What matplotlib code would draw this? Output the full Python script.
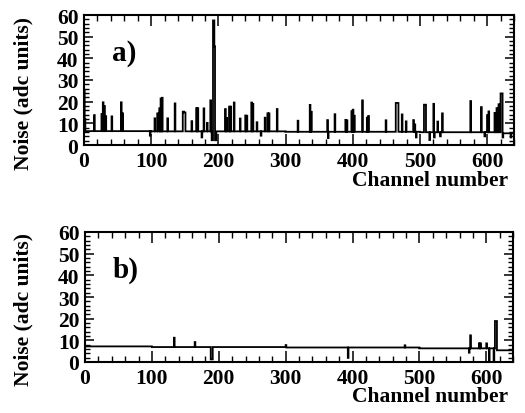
import numpy as np
import matplotlib
matplotlib.use("Agg")
import matplotlib.pyplot as plt
from matplotlib.ticker import MultipleLocator

plt.rcParams['font.family'] = ['Liberation Serif', 'DejaVu Serif']
plt.rcParams['font.weight'] = 'bold'

n_channels = 640

# ---- panel a) : baseline levels (start channel, level) and spikes (channel, value)
base_a_start = [0, 100, 300, 500, 624]
base_a_level = [6.4, 6.3, 6.1, 5.9, 5.4]
spike_a_ch = [0, 1, 15, 26, 28, 30, 32, 41, 55, 57, 98,
              105, 109, 112, 114, 116, 124, 135, 147, 148, 149, 150,
              160, 167, 169, 175, 178, 183, 188, 190, 191, 192, 193, 194, 195, 196,
              210, 212, 216, 218, 223, 232, 240, 242, 249, 251, 257, 263,
              269, 273, 275, 287, 318, 336, 338, 362, 363, 373, 389, 391,
              398, 400, 402, 414, 421, 423, 449, 464, 465, 466, 467, 473,
              479, 490, 492, 494, 506, 507, 508, 514, 520, 521, 526, 530, 533,
              575, 591, 596, 600, 602, 611, 614, 617, 620, 621, 622, 623, 635]
spike_a_val = [25.0, 12.0, 13.8, 14.3, 19.7, 18.0, 13.3, 13.2, 19.7, 14.6, 4.3,
               12.3, 14.6, 16.9, 21.5, 21.8, 12.3, 19.2, 15.4, 15.4, 15.0, 15.0,
               11.0, 17.0, 17.0, 3.5, 16.9, 10.2, 20.6, 2.2, 2.2, 57.5, 57.5, 45.5, 2.2, 2.2,
               16.6, 12.5, 17.7, 17.7, 19.6, 12.2, 13.6, 13.5, 19.6, 19.0, 10.5, 4.3,
               12.6, 14.6, 14.6, 16.6, 11.2, 18.5, 15.3, 11.5, 3.2, 14.2, 11.6, 11.4,
               15.6, 16.3, 13.5, 20.6, 12.6, 13.4, 11.4, 19.4, 19.4, 19.4, 19.4, 14.1,
               10.9, 11.5, 9.5, 3.5, 18.6, 18.6, 18.6, 2.3, 19.0, 3.5, 10.8, 4.0, 14.6,
               20.3, 17.5, 4.0, 13.8, 15.5, 14.8, 17.0, 18.8, 23.8, 23.8, 23.8, 3.5, 3.5]

# ---- panel b)
base_b_start = [0, 100, 300, 500, 616]
base_b_level = [7.2, 6.9, 6.7, 6.3, 5.4]
spike_b_ch = [133, 164, 188, 189, 190, 300, 393, 478, 574, 576, 589, 591, 600,
              604, 611, 613, 614, 615]
spike_b_val = [11.2, 9.2, 1.2, 1.2, 1.2, 7.8, 1.9, 7.7, 4.3, 12.3, 8.6, 8.6, 8.6,
               0.5, 0.5, 18.9, 18.9, 18.9]

x_ticks = [0, 100, 200, 300, 400, 500, 600]
y_ticks = [0, 10, 20, 30, 40, 50, 60]


def build(starts, levels, chans, vals):
    arr = np.zeros(n_channels)
    bounds = list(starts) + [n_channels]
    for i, lv in enumerate(levels):
        arr[bounds[i]:bounds[i + 1]] = lv
    arr[np.array(chans)] = vals
    return arr


noise_a = build(base_a_start, base_a_level, spike_a_ch, spike_a_val)
noise_b = build(base_b_start, base_b_level, spike_b_ch, spike_b_val)
edges = np.arange(n_channels + 1)

W, H = 525, 414
fig = plt.figure(figsize=(W / 100, H / 100), dpi=100)

fs = 15.5


def make_axes(left, top, right, bottom):
    return fig.add_axes([left / W, 1 - bottom / H, (right - left) / W, (bottom - top) / H])


ax_a = make_axes(84, 16, 514, 146)
ax_b = make_axes(85, 233, 513, 363)

panels = [(ax_a, noise_a, 'a)', 16, 146, 40), (ax_b, noise_b, 'b)', 233, 363, 39)]
for ax, data, lab, top, bot, xl_off in panels:
    ax.stairs(data, edges, baseline=None, color='black', linewidth=1.3)
    ax.set_xlim(0, n_channels)
    ax.set_ylim(0, 60)
    ax.set_xticks(x_ticks)
    ax.set_yticks(y_ticks)
    ax.xaxis.set_minor_locator(MultipleLocator(20))
    ax.yaxis.set_minor_locator(MultipleLocator(2))
    ax.tick_params(axis='x', which='major', direction='in', length=8, width=1.1,
                   top=True, bottom=True, labelsize=fs, pad=4)
    ax.tick_params(axis='x', which='minor', direction='in', length=4, width=1.0,
                   top=True, bottom=True)
    ax.tick_params(axis='y', which='major', direction='in', length=6.5, width=1.1,
                   left=True, right=True, labelsize=fs, pad=4)
    ax.tick_params(axis='y', which='minor', direction='in', length=3.5, width=1.0,
                   left=True, right=True)
    for lbl in ax.get_xticklabels() + ax.get_yticklabels():
        lbl.set_fontweight('bold')
    for s in ax.spines.values():
        s.set_linewidth(1.5)
    # panel tag, baseline about 44 px below the top frame
    ax.text(0.065, 1 - 45 / 130.0, lab, transform=ax.transAxes,
            fontsize=21, fontweight='bold', ha='left', va='baseline')
    # axis titles
    fig.text(508 / W, 1 - (bot + xl_off) / H, 'Channel number', fontsize=fs,
             fontweight='bold', ha='right', va='baseline')
    fig.text(23 / W, 1 - (bot - 53) / H, 'Noise (adc units)', fontsize=fs,
             fontweight='bold', rotation=90, ha='center', va='center')

fig.savefig('out.png', dpi=100)
